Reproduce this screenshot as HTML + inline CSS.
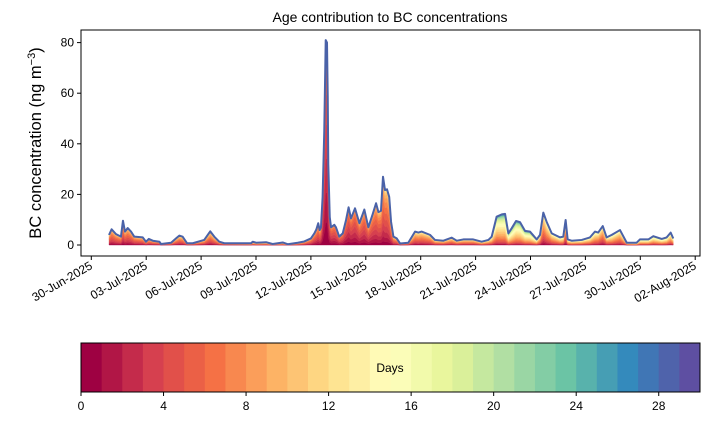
<!DOCTYPE html>
<html><head><meta charset="utf-8"><style>
body{margin:0;background:#fff;}
svg{display:block;font-family:"Liberation Sans","DejaVu Sans",sans-serif;}
</style></head><body>
<svg id="chart" width="710" height="425" viewBox="0 0 710 425" xmlns="http://www.w3.org/2000/svg">
<text x="390" y="22" font-size="14" text-anchor="middle">Age contribution to BC concentrations</text>
<text transform="translate(41,143) rotate(-90)" font-size="16.5" text-anchor="middle">BC concentration (ng m<tspan dy="-6" font-size="11">−3</tspan><tspan dy="6">)</tspan></text>
<g id="layers"></g>
<g id="axes"></g>
<g id="cbar"></g>
</svg>
<script>
// Days since 30-Jun-2025 00:00
const days = [0.97,1.11,1.35,1.62,1.73,1.84,1.99,2.17,2.35,2.81,2.99,3.14,3.36,3.72,3.81,4.36,4.63,4.81,4.99,5.23,5.54,6.17,6.5,6.72,6.99,7.27,8.73,8.82,9.0,9.55,9.91,10.46,10.73,11.28,11.64,12.0,12.19,12.3,12.4,12.48,12.55,12.64,12.73,12.81,12.88,12.92,12.95,13.03,13.1,13.28,13.37,13.55,13.74,13.92,14.06,14.19,14.41,14.65,14.92,15.14,15.38,15.56,15.69,15.83,15.94,16.05,16.16,16.28,16.38,16.51,16.69,16.87,17.32,17.69,17.87,18.05,18.51,18.78,19.24,19.69,19.97,20.33,20.87,21.33,21.7,21.88,22.15,22.43,22.61,22.79,22.97,23.21,23.43,23.7,23.97,24.34,24.52,24.7,24.88,25.16,25.61,25.79,25.92,26.03,26.25,26.8,27.25,27.52,27.7,27.95,28.16,28.44,28.89,29.26,29.8,29.98,30.44,30.71,31.17,31.44,31.66,31.8];
const totals = [4,6.2,4.3,3.3,9.6,5.3,6.7,5.3,3.3,3,1.3,2.4,1.7,1.3,0.4,0.9,2.6,3.7,3.3,0.7,0.7,2,5.4,3.3,1.3,0.7,0.7,1.3,0.9,1.1,0.4,1.0,0.3,0.9,1.4,2.6,4.6,6.2,8.6,5.9,7,19,45,81,80,58.6,32,11,7,8,7,3.3,4.6,9.9,14.9,10.5,14.5,8.6,14,7,12.3,16.5,13,13.5,27,21.7,22,19,9.2,3.3,2.6,0.6,0.9,5.3,4.9,5.3,4,2,1.7,2.9,1.7,2.2,2.2,1.3,2,3.3,11.2,12.1,12.3,4.6,6.6,9.5,9,5.6,5.3,2.2,4,12.8,9.2,4.6,3,3.3,9.9,2.2,1.7,2,3,5.3,4.9,7.5,3,4,5.9,0.9,0.9,2.2,2.2,3.5,2.4,3,4.9,2.6];
// mean transport age (days) per sample
const meanAge = [5,5,5,5,5,5,5,5,5,5.5,5.5,5.5,5.5,5.5,5.5,6,6,6,6,6,6,6,6,6,6,6,8,8,8,8,8,8,8,7,6,5,4.5,4.5,4.5,4.5,4,3.5,3,3,3,3,3.5,3.5,3.5,3.5,3.5,3.5,3.5,3.5,3.5,3.5,3.5,4,4,4,4,4.5,4.5,4.5,5,5,5,5.5,5.5,5.5,5.5,6,6,6.5,6.5,6.5,6.5,7,7,7,7,7,7,8,8,9,11,12,12,12,12,12,12,12,12,10,8,7,8,8,9,9,7,9,9,9,9,9,8,7,8,9,8,9,10,10,10,10,10,10,9,9];
const xTickLabels = ["30-Jun-2025","03-Jul-2025","06-Jul-2025","09-Jul-2025","12-Jul-2025","15-Jul-2025","18-Jul-2025","21-Jul-2025","24-Jul-2025","27-Jul-2025","30-Jul-2025","02-Aug-2025"];
const xTickDays = [0,3,6,9,12,15,18,21,24,27,30,33];
const yTicks = [0,20,40,60,80];
const cbarTicks = [0,4,8,12,16,20,24,28];
const nBins = 30;

const NS="http://www.w3.org/2000/svg";
const L=81,R=700,T=30,B=256;
const xs=d=>91.3+d*18.3;
const ys=v=>245-v*2.53;
const stops=["#9e0142","#d53e4f","#f46d43","#fdae61","#fee08b","#ffffbf","#e6f598","#abdda4","#66c2a5","#3288bd","#5e4fa2"];
function hex(h){return [1,3,5].map(i=>parseInt(h.substr(i,2),16));}
function spectral(t){const p=t*(stops.length-1),i=Math.min(Math.floor(p),stops.length-2),f=p-i;const a=hex(stops[i]),b=hex(stops[i+1]);return "rgb("+a.map((c,k)=>Math.round(c+(b[k]-c)*f)).join(",")+")";}
function mk(tag,attrs,parent){const e=document.createElementNS(NS,tag);for(const k in attrs)e.setAttribute(k,attrs[k]);parent.appendChild(e);return e;}

// stacked layers
const fr=meanAge.map(m=>{const w=[];let s=0;for(let k=0;k<nBins;k++){const v=Math.exp(-Math.pow((k+0.5-m)/(m*0.5+1.2),2)/2);w.push(v);s+=v;}return w.map(v=>v/s);});
const layers=document.getElementById('layers');
const cum=days.map(()=>0);
for(let k=0;k<nBins;k++){
  const lo=cum.slice();
  for(let i=0;i<days.length;i++)cum[i]+=fr[i][k]*totals[i];
  let d="M"+days.map((x,i)=>xs(x).toFixed(2)+","+ys(cum[i]).toFixed(2)).join("L");
  for(let i=days.length-1;i>=0;i--)d+="L"+xs(days[i]).toFixed(2)+","+ys(lo[i]).toFixed(2);
  const p=mk('path',{d:d+"Z",fill:spectral(k/(nBins-1)),stroke:spectral(k/(nBins-1)),'stroke-width':0.4},layers);
  
  
}
const line=mk('path',{d:"M"+days.map((x,i)=>xs(x).toFixed(2)+","+ys(totals[i]).toFixed(2)).join("L"),fill:"none",stroke:"#4a62a8",'stroke-width':2,'stroke-linejoin':'round'},layers);



// axes
const ax=document.getElementById('axes');
const frame=mk('rect',{x:L,y:T,width:R-L,height:B-T,fill:"none",stroke:"#000",'stroke-width':1},ax);


yTicks.forEach(v=>{
  mk('line',{x1:L-4,x2:L,y1:ys(v),y2:ys(v),stroke:"#000"},ax);
  const t=mk('text',{x:L-7,y:ys(v)+4,'font-size':12,'text-anchor':'end'},ax);t.textContent=v;
  
  
});
xTickDays.forEach((d,i)=>{
  const x=xs(d);
  mk('line',{x1:x,x2:x,y1:B,y2:B+4,stroke:"#000"},ax);
  const t=mk('text',{transform:`translate(${x+2},${B+12}) rotate(-30)`,'font-size':12,'text-anchor':'end'},ax);t.textContent=xTickLabels[i];
  
  
});

// colorbar
const cb=document.getElementById('cbar');
const CL=81,CR=700,CT=343,CB=392,cw=(CR-CL)/nBins;
for(let k=0;k<nBins;k++){
  const r=mk('rect',{x:CL+k*cw,y:CT,width:cw+0.5,height:CB-CT,fill:spectral(k/(nBins-1))},cb);
  
  
}
mk('rect',{x:CL,y:CT,width:CR-CL,height:CB-CT,fill:"none",stroke:"#000"},cb);
const dl=mk('text',{x:390,y:372,'font-size':12,'text-anchor':'middle'},cb);dl.textContent="Days";


cbarTicks.forEach(v=>{
  const x=CL+v*cw;
  mk('line',{x1:x,x2:x,y1:CB,y2:CB+4,stroke:"#000"},cb);
  const t=mk('text',{x:x,y:CB+18,'font-size':12,'text-anchor':'middle'},cb);t.textContent=v;
  
  
});
</script>
</body></html>
